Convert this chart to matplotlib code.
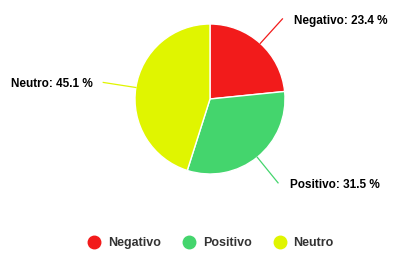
import numpy as np
import matplotlib.pyplot as plt
from matplotlib.lines import Line2D

labels = ['Negativo', 'Positivo', 'Neutro']
values = [23.4, 31.5, 45.1]
colors = ['#f21b1b', '#44d56d', '#e0f500']

W, H = 405, 261
fig = plt.figure(figsize=(W / 100, H / 100), dpi=100)
ax = fig.add_axes([0, 0, 1, 1])

cx, cy, r = 210, H - 99, 75
wedges, _ = ax.pie(values, colors=colors, startangle=90, counterclock=False,
                   center=(cx, cy), radius=r, frame=True,
                   wedgeprops=dict(edgecolor='white', linewidth=1))
ax.set_xlim(0, W)
ax.set_ylim(0, H)
ax.set_aspect('equal')
ax.axis('off')

# connectors + data labels
for w, lab, val, col in zip(wedges, labels, values, colors):
    ang = np.deg2rad((w.theta1 + w.theta2) / 2)
    x0, y0 = cx + r * np.cos(ang), cy + r * np.sin(ang)
    x1, y1 = cx + 108 * np.cos(ang), cy + 108 * np.sin(ang)
    ax.plot([x0, x1], [y0, y1], color=col, lw=0.9)
    right = np.cos(ang) > 0
    tx = x1 + (12 if right else -11)
    ax.text(tx, y1 - 2, f'{lab}: {val} %', ha='left' if right else 'right',
            va='center', fontsize=8.5, fontweight='bold', color='black',
            family='Liberation Sans')

handles = [Line2D([], [], marker='o', ls='', markersize=9, color=c) for c in colors]
leg = ax.legend(handles, labels, loc='center', bbox_to_anchor=(210 / W, 1 - 243 / H),
                ncol=3, frameon=False, handletextpad=0.52, columnspacing=1.65,
                handlelength=1.2,
                prop=dict(family='Liberation Sans', weight='bold', size=9))
for t in leg.get_texts():
    t.set_color('#333333')

fig.savefig('out.png', dpi=100)
